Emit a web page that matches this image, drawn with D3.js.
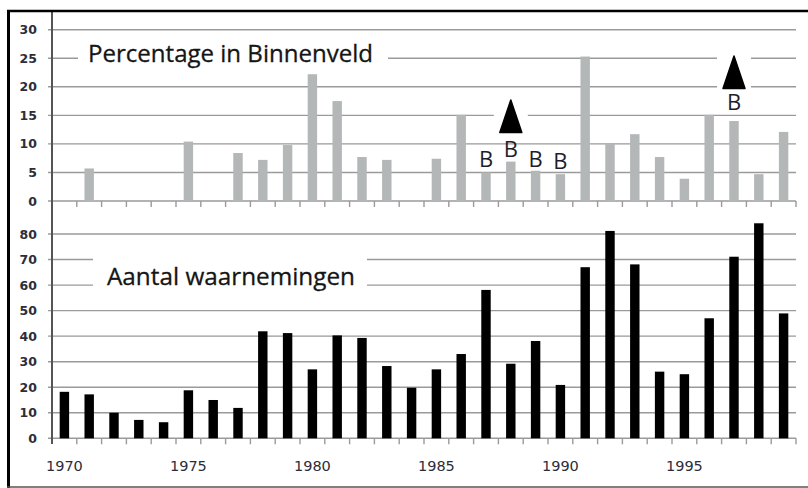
<!DOCTYPE html>
<html><head><meta charset="utf-8">
<script src="https://cdn.jsdelivr.net/npm/d3@7/dist/d3.min.js"></script>
<style>html,body{margin:0;padding:0;background:#fff;}svg{display:block;}</style>
</head><body>
<script>
const years = d3.range(1970, 2000);
const percentage = [0,5.7,0,0,0,10.4,0,8.4,7.2,9.8,22.2,17.5,7.7,7.2,0,7.4,15.1,5.0,6.9,5.3,4.7,25.3,10.0,11.7,7.7,3.9,15.1,14.0,4.7,12.1];
const observations = [18.2,17.2,10.0,7.2,6.3,18.8,15.0,11.9,41.9,41.2,27.0,40.3,39.3,28.3,19.8,27.0,33.0,58.1,29.2,38.1,20.9,67.0,81.2,68.1,26.1,25.1,47.0,71.1,84.2,48.9];
const topTicks = [0,5,10,15,20,25,30];
const bottomTicks = [0,10,20,30,40,50,60,70,80];
const yearLabels = [1970,1975,1980,1985,1990,1995];
const bLabels = [{year:1987, level:6.0},{year:1988, level:7.75},{year:1989, level:6.0},{year:1990, level:5.6},{year:1997, level:15.9}];
const arrows = [{year:1988, top:17.7, bottom:12.0},{year:1997, top:25.4, bottom:19.7}];
const topTitle = "Percentage in Binnenveld";
const bottomTitle = "Aantal waarnemingen";

const W = 808, H = 488;
const svg = d3.select("body").append("svg").attr("width", W).attr("height", H);
const X0 = 52, X1 = 796;
const x = d3.scaleBand().domain(years).range([X0, X1]).paddingInner(0.62).paddingOuter(0.31);
const xi = d3.scaleLinear().domain([0, years.length]).range([X0, X1]);
const yTop = d3.scaleLinear().domain([0, 30]).range([201, 29.7]);
const yBot = d3.scaleLinear().domain([0, 80]).range([438.3, 234]);
const gridCol = "#9a9a9a";
const labelFont = "DejaVu Sans, Verdana, sans-serif";
const titleFont = "'Open Sans', 'Noto Sans', sans-serif";

function grid(y, ticks) {
  svg.append("g").selectAll("line").data(ticks).join("line")
    .attr("x1", X0 - 4).attr("x2", X1)
    .attr("y1", d => y(d)).attr("y2", d => y(d))
    .attr("stroke", gridCol).attr("stroke-width", 1.4);
  svg.append("g").selectAll("text").data(ticks).join("text")
    .attr("x", 37).attr("y", d => y(d)).attr("dy", "0.36em")
    .attr("text-anchor", "end").attr("font-family", labelFont)
    .attr("font-size", 12.5).attr("font-weight", "bold").attr("fill", "#2d2d3a")
    .text(d => d);
}
grid(yTop, topTicks);
grid(yBot, bottomTicks);

function xticks(y0) {
  svg.append("g").selectAll("line").data(d3.range(1, years.length + 1)).join("line")
    .attr("x1", d => xi(d)).attr("x2", d => xi(d))
    .attr("y1", y0).attr("y2", y0 + 6)
    .attr("stroke", gridCol).attr("stroke-width", 1.4);
}
xticks(yTop(0));
xticks(yBot(0));

svg.append("rect").attr("x", 78).attr("y", 40).attr("width", 310).attr("height", 32).attr("fill", "#fff");
svg.append("text").attr("x", 88).attr("y", 62).attr("font-family", titleFont).attr("font-size", 24)
  .attr("fill", "#151515").attr("stroke", "#151515").attr("stroke-width", 0.3)
  .attr("textLength", 285).attr("lengthAdjust", "spacingAndGlyphs").text(topTitle);
svg.append("rect").attr("x", 93).attr("y", 255).attr("width", 274).attr("height", 36).attr("fill", "#fff");
svg.append("text").attr("x", 107).attr("y", 285).attr("font-family", titleFont).attr("font-size", 24)
  .attr("fill", "#151515").attr("stroke", "#151515").attr("stroke-width", 0.3)
  .attr("textLength", 248).attr("lengthAdjust", "spacingAndGlyphs").text(bottomTitle);

svg.append("g").selectAll("rect").data(years.map((yr, i) => ({yr, v: percentage[i]})).filter(d => d.v > 0)).join("rect")
  .attr("x", d => x(d.yr)).attr("width", x.bandwidth())
  .attr("y", d => yTop(d.v)).attr("height", d => yTop(0) - yTop(d.v))
  .attr("fill", "#b4b7b7");
svg.append("g").selectAll("rect").data(years.map((yr, i) => ({yr, v: observations[i]}))).join("rect")
  .attr("x", d => x(d.yr)).attr("width", x.bandwidth())
  .attr("y", d => yBot(d.v)).attr("height", d => yBot(0) - yBot(d.v))
  .attr("fill", "#000");

const cx = yr => x(yr) + x.bandwidth() / 2;
svg.append("g").selectAll("rect").data(arrows).join("rect")
  .attr("x", d => cx(d.year) - 17).attr("width", 34)
  .attr("y", d => yTop(d.top) - 3).attr("height", d => yTop(d.bottom) - yTop(d.top) + 6)
  .attr("fill", "#fff");
svg.append("g").selectAll("path").data(arrows).join("path")
  .attr("d", d => {
    const c = cx(d.year), t = yTop(d.top), b = yTop(d.bottom);
    return `M${c},${t} L${c + 11},${b} L${c - 11},${b} Z`;
  })
  .attr("fill", "#000").attr("stroke", "#000").attr("stroke-width", 1.5).attr("stroke-linejoin", "round");

svg.append("g").selectAll("text").data(bLabels).join("text")
  .attr("x", d => cx(d.year)).attr("y", d => yTop(d.level))
  .attr("text-anchor", "middle").attr("font-family", titleFont).attr("font-size", 22)
  .attr("fill", "#1e1e2a").text("B");

svg.append("g").selectAll("text").data(yearLabels).join("text")
  .attr("x", d => cx(d)).attr("y", 470.5)
  .attr("text-anchor", "middle").attr("font-family", labelFont).attr("font-size", 14.5)
  .attr("fill", "#2d2d3a").text(d => d);

svg.append("line").attr("x1", X0).attr("x2", X0).attr("y1", 11).attr("y2", 444)
  .attr("stroke", "#555").attr("stroke-width", 2);

svg.append("line").attr("x1", 8.5).attr("x2", 8.5).attr("y1", 10).attr("y2", 488).attr("stroke", "#000").attr("stroke-width", 3);
svg.append("line").attr("x1", 7).attr("x2", 808).attr("y1", 11).attr("y2", 11).attr("stroke", "#000").attr("stroke-width", 2.5);
svg.append("line").attr("x1", 7).attr("x2", 808).attr("y1", 487).attr("y2", 487).attr("stroke", "#555").attr("stroke-width", 1.5);
</script>
</body></html>
